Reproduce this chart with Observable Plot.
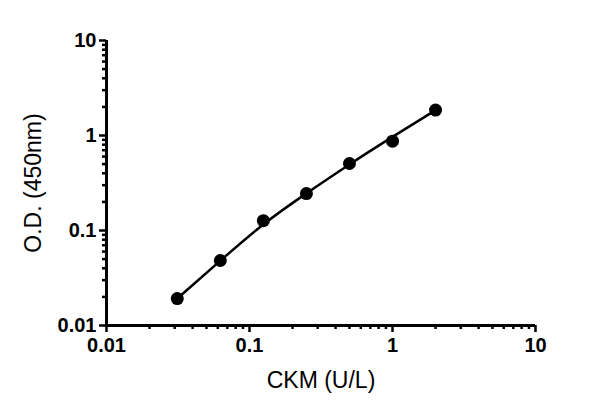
<!DOCTYPE html>
<html><head><meta charset="utf-8">
<script src="https://cdn.jsdelivr.net/npm/d3@7"></script>
<script src="https://cdn.jsdelivr.net/npm/@observablehq/plot@0.6"></script>
<style>body{margin:0;background:#fff}</style>
</head><body><div id="chart"></div>
<script>
const concentration = [0.03125, 0.0625, 0.125, 0.25, 0.5, 1, 2];
const od = [0.0192, 0.0483, 0.127, 0.245, 0.507, 0.871, 1.85];
const fitOd = [0.0192, 0.0481, 0.1194, 0.247, 0.499, 0.971, 1.846];
const majorTicks = [0.01, 0.1, 1, 10];
const majorLabels = ["0.01", "0.1", "1", "10"];
const minorTicks = [0.02,0.03,0.04,0.05,0.06,0.07,0.08,0.09,0.2,0.3,0.4,0.5,0.6,0.7,0.8,0.9,2,3,4,5,6,7,8,9];
const xTitle = "CKM (U/L)";
const yTitle = "O.D. (450nm)";

const points = concentration.map((c, i) => ({c, od: od[i]}));
const fit = concentration.map((c, i) => ({c, od: fitOd[i]}));
const fmt = d => majorLabels[majorTicks.indexOf(d)];

const chart = Plot.plot({
  width: 600, height: 413,
  marginLeft: 106, marginRight: 65, marginTop: 40, marginBottom: 88,
  style: {fontFamily: "'Liberation Sans', Arial, sans-serif", color: "#000", background: "#fff"},
  x: {type: "log", domain: [0.01, 10]},
  y: {type: "log", domain: [0.01, 10]},
  marks: [
    Plot.axisX({ticks: minorTicks, tickSize: 4, tickFormat: () => "", strokeWidth: 2.5, label: null}),
    Plot.axisX({ticks: majorTicks, tickSize: 7, tickPadding: 5, tickFormat: fmt, strokeWidth: 2.5, fontSize: 20, fontWeight: "bold", label: null}),
    Plot.axisY({ticks: minorTicks, tickSize: 4, tickFormat: () => "", strokeWidth: 2.5, label: null}),
    Plot.axisY({ticks: majorTicks, tickSize: 7, tickPadding: 3, tickFormat: fmt, strokeWidth: 2.5, fontSize: 20, fontWeight: "bold", label: null}),
    Plot.ruleX([0.01], {strokeWidth: 3}),
    Plot.ruleY([0.01], {strokeWidth: 3}),
    Plot.line(fit, {x: "c", y: "od", curve: "basis", strokeWidth: 2.5, stroke: "#000"}),
    Plot.dot(points, {x: "c", y: "od", r: 6.5, fill: "#000", stroke: "none"}),
    Plot.text([xTitle], {frameAnchor: "bottom", dy: 62, fontSize: 23, text: d => d, letterSpacing: "0.5px"}),
    Plot.text([yTitle], {frameAnchor: "left", textAnchor: "middle", dx: -73, rotate: -90, fontSize: 23, text: d => d, letterSpacing: "0.5px"})
  ]
});
document.getElementById("chart").appendChild(chart);
</script>
</body></html>
